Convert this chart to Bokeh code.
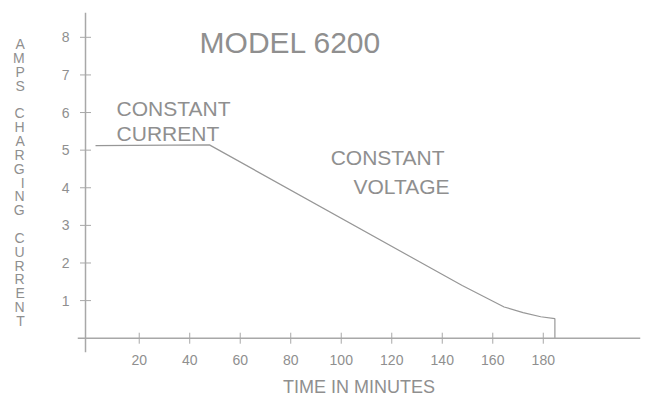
import math
from bokeh.plotting import figure
from bokeh.models import FixedTicker, Range1d, Label, Span
from bokeh.embed import file_html
from bokeh.resources import INLINE

# ---- data ----
time_min = [2.7, 47.8, 147.9, 164.5, 172.0, 179.0, 184.6, 184.6]
amps = [5.12, 5.14, 1.40, 0.83, 0.68, 0.57, 0.52, 0.0]

x_ticks = [20, 40, 60, 80, 100, 120, 140, 160, 180]
y_ticks = [1, 2, 3, 4, 5, 6, 7, 8]

title_text = "MODEL 6200"
x_label = "TIME IN MINUTES"
y_label = "AMPS CHARGING CURRENT"
cc_lines = ["CONSTANT", "CURRENT"]
cv_lines = ["CONSTANT", "VOLTAGE"]

FONT = "Liberation Sans"
TXT = "#8f8f8f"
LINE = "#a8a8a8"
Y_AXIS_AT = -1.27

p = figure(width=645, height=400, output_backend="svg", toolbar_location=None,
           x_range=Range1d(-4.44, 218.5), y_range=Range1d(-0.38, 8.66),
           min_border_left=77, min_border_right=5, min_border_top=12,
           min_border_bottom=48)
p.grid.visible = False
p.outline_line_color = None
p.background_fill_color = "white"
p.border_fill_color = "white"

for ax in (p.xaxis, p.yaxis):
    ax.axis_line_color = None
    ax.major_tick_line_color = None
    ax.major_tick_in = 0
    ax.major_tick_out = 0
    ax.minor_tick_line_color = None
    ax.major_label_text_color = TXT
    ax.major_label_text_font = FONT
    ax.major_label_text_font_size = "14px"
    ax.axis_label_text_color = TXT
    ax.axis_label_text_font = FONT
    ax.axis_label_text_font_style = "normal"

p.xaxis.ticker = FixedTicker(ticks=x_ticks)
p.yaxis.ticker = FixedTicker(ticks=y_ticks)
p.xaxis.major_label_standoff = 2
p.yaxis.major_label_standoff = 8

p.xaxis.axis_label = x_label
p.xaxis.axis_label_text_font_size = "18px"
p.xaxis.axis_label_standoff = 9

p.yaxis.axis_label = "\n".join(list(y_label))
p.yaxis.axis_label_orientation = "horizontal"
p.yaxis.axis_label_text_font_size = "14px"
p.yaxis.axis_label_text_line_height = 0.865
p.yaxis.axis_label_standoff = 34
try:
    p.yaxis.axis_label_align = "center"
except Exception:
    pass

# axis lines drawn across the frame at x = Y_AXIS_AT and y = 0
p.add_layout(Span(location=0, dimension="width", line_color=LINE, line_width=1.5))
p.add_layout(Span(location=Y_AXIS_AT, dimension="height", line_color=LINE, line_width=1.5))

# crossing tick marks
p.scatter(x_ticks, [0] * len(x_ticks), marker="dash", size=11, angle=math.pi / 2,
          line_color=LINE, line_width=1)
p.scatter([Y_AXIS_AT] * len(y_ticks), y_ticks, marker="dash", size=11,
          line_color=LINE, line_width=1)

p.line(time_min, amps, line_color="#979797", line_width=1.2)

def add_text(txt, x, y, size, align="left"):
    p.add_layout(Label(x=x, y=y, text=txt, text_font=FONT, text_font_size=size,
                       text_color=TXT, text_baseline="alphabetic", text_align=align))

add_text(title_text, 43.9, 7.87, "30px")
add_text(cc_lines[0], 11.05, 6.10, "21px")
add_text(cc_lines[1], 11.05, 5.44, "21px")
add_text(cv_lines[0], 95.8, 4.81, "21px")
add_text(cv_lines[1], 142.9, 4.04, "21px", align="right")

open("out.html", "w").write(file_html(p, INLINE))
